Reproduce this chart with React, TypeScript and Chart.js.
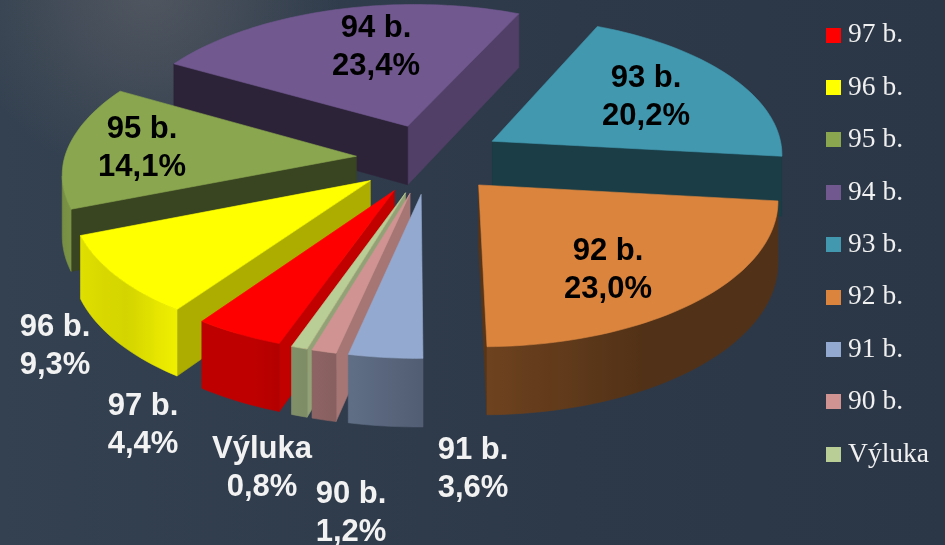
import React, { useEffect, useRef } from "react";
import { Chart, registerables } from "chart.js";

Chart.register(...registerables);

const categories = ["97 b.", "96 b.", "95 b.", "94 b.", "93 b.", "92 b.", "91 b.", "90 b.", "Výluka"];
const shares = [4.4, 9.3, 14.1, 23.4, 20.2, 23.0, 3.6, 1.2, 0.8];
const colors = ["#FF0000", "#FFFF00", "#8AA64E", "#71588F", "#4198AF", "#DB843D", "#93A9CF", "#D09392", "#B9CD96"];

// label anchor: centre x, first baseline y, text colour
const labelSpots: [number, number, string][] = [
  [143, 415, "#F2F2F2"],
  [55, 336, "#F2F2F2"],
  [142, 138, "#000000"],
  [376, 37, "#000000"],
  [646, 87, "#000000"],
  [608, 260, "#000000"],
  [473, 459, "#F2F2F2"],
  [351, 503, "#F2F2F2"],
  [262, 458, "#F2F2F2"],
];

// view of the tilted pie
const CX = 429, CY = 158.6, RX = 292, RY = 140, PERSP = 0.1, DEPTH = 60, EXPLODE = 0.25;
const SKEW_FRONT = -2.5, SKEW_BACK = -6;

type P = { x: number; y: number };
const project = (u: number, v: number, z: number): P => {
  const w = 1 - PERSP * v;
  const skew = v > 0 ? SKEW_FRONT : SKEW_BACK;
  return { x: CX + (RX * u + skew * v) / w, y: CY + (RY * v) / w + (z * DEPTH) / w };
};

const lerp = (a: number, b: number, t: number) => a + (b - a) * Math.min(1, Math.max(0, t));
const shadeHex = (hex: string, f: number) => {
  const n = parseInt(hex.slice(1), 16);
  return `rgb(${Math.round(((n >> 16) & 255) * f)},${Math.round(((n >> 8) & 255) * f)},${Math.round((n & 255) * f)})`;
};
const norm = (deg: number) => ((deg % 360) + 360) % 360;

// brightness of the outer wall, by compass direction (0 = back, 180 = front)
const rimLight = (deg: number) => {
  const d = norm(deg);
  if (d < 150) return 0.37;
  if (d < 179) return lerp(0.37, 0.5, (d - 150) / 29);
  if (d < 205) return lerp(0.55, 0.75, (d - 179) / 26);
  if (d < 215) return 0.75;
  if (d < 228) return lerp(0.94, 0.83, (d - 215) / 13);
  if (d < 250) return lerp(0.83, 0.88, (d - 228) / 22);
  return lerp(0.88, 0.8, (d - 250) / 30);
};
// brightness of a cut face, by the direction its normal looks at
const cutLight = (deg: number) => {
  const d = norm(deg);
  if (d < 105) return 0.8;
  if (d < 113) return lerp(0.8, 0.72, (d - 105) / 8);
  if (d < 125) return lerp(0.72, 0.68, (d - 113) / 12);
  if (d < 160) return lerp(0.68, 0.4, (d - 125) / 35);
  return 0.4;
};

const area = (pts: P[]) => {
  let s = 0;
  pts.forEach((p, i) => {
    const q = pts[(i + 1) % pts.length];
    s += p.x * q.y - q.x * p.y;
  });
  return s / 2;
};

const fillPoly = (ctx: CanvasRenderingContext2D, pts: P[], color: any) => {
  ctx.beginPath();
  pts.forEach((p, i) => (i ? ctx.lineTo(p.x, p.y) : ctx.moveTo(p.x, p.y)));
  ctx.closePath();
  ctx.fillStyle = color;
  ctx.strokeStyle = color;
  ctx.lineWidth = 0.6;
  ctx.fill();
  ctx.stroke();
};

const drawSlice = (ctx: CanvasRenderingContext2D, start: number, end: number, color: string) => {
  const mid = (start + end) / 2;
  const ou = EXPLODE * Math.cos(mid);
  const ov = EXPLODE * Math.sin(mid);
  const steps = Math.max(2, Math.ceil((end - start) / (Math.PI / 120)));
  const arc: [number, number, number][] = [];
  for (let i = 0; i <= steps; i++) {
    const a = start + ((end - start) * i) / steps;
    arc.push([ou + Math.cos(a), ov + Math.sin(a), a]);
  }
  const tip: [number, number] = [ou, ov];
  const first = arc[0];
  const last = arc[arc.length - 1];

  const wall = (p: number[], q: number[]) => [
    project(p[0], p[1], 0),
    project(q[0], q[1], 0),
    project(q[0], q[1], 1),
    project(p[0], p[1], 1),
  ];

  const faces: { pts: P[]; depth: number; color: any }[] = [];
  const startCut = wall(tip, first);
  if (area(startCut) < 0)
    faces.push({ pts: startCut, depth: tip[1] + first[1], color: shadeHex(color, cutLight((start * 180) / Math.PI)) });
  const endCut = wall(last, tip);
  if (area(endCut) < 0)
    faces.push({ pts: endCut, depth: tip[1] + last[1], color: shadeHex(color, cutLight((end * 180) / Math.PI + 180)) });

  // the outer wall is one shape with a horizontal gradient
  const top: P[] = [];
  const bottom: P[] = [];
  const stops: { x: number; f: number }[] = [];
  for (let i = 0; i < steps; i++) {
    const pts = wall(arc[i], arc[i + 1]);
    if (area(pts) >= 0) continue;
    if (!top.length) {
      top.push(pts[0]);
      bottom.push(pts[3]);
    }
    top.push(pts[1]);
    bottom.push(pts[2]);
    stops.push({ x: (pts[0].x + pts[1].x) / 2, f: rimLight((((arc[i][2] + arc[i + 1][2]) / 2) * 180) / Math.PI + 90) });
  }
  if (top.length > 1) {
    const xs = [...top, ...bottom].map((p) => p.x);
    const x0 = Math.min(...xs);
    const x1 = Math.max(...xs);
    const g = ctx.createLinearGradient(x0, 0, x1, 0);
    stops.forEach((s) => g.addColorStop(Math.min(1, Math.max(0, (s.x - x0) / (x1 - x0 || 1))), shadeHex(color, s.f)));
    faces.push({ pts: [...top, ...bottom.reverse()], depth: 2 * ov + 1, color: g });
  }

  faces.sort((a, b) => a.depth - b.depth).forEach((f) => fillPoly(ctx, f.pts, f.color));
  fillPoly(ctx, [project(tip[0], tip[1], 0), ...arc.map((p) => project(p[0], p[1], 0))], color);
};

const backdrop = {
  id: "backdrop",
  beforeDraw(chart: any) {
    const { ctx, width, height } = chart;
    const lin = ctx.createLinearGradient(0, 0, width, 0);
    lin.addColorStop(0, "#344150");
    lin.addColorStop(0.6, "#2D3949");
    lin.addColorStop(1, "#2B3747");
    ctx.fillStyle = lin;
    ctx.fillRect(0, 0, width, height);
    const glow = ctx.createRadialGradient(150, -10, 10, 150, -10, 190);
    glow.addColorStop(0, "rgba(130,125,125,0.36)");
    glow.addColorStop(1, "rgba(130,125,125,0)");
    ctx.fillStyle = glow;
    ctx.fillRect(0, 0, width, height);
  },
};

const pie3d = {
  id: "pie3d",
  beforeDatasetsDraw(chart: any) {
    const { ctx } = chart;
    const arcs = chart.getDatasetMeta(0).data as any[];
    ctx.save();
    arcs
      .map((arc, i) => ({ arc, i }))
      .sort((a, b) => Math.sin((a.arc.startAngle + a.arc.endAngle) / 2) - Math.sin((b.arc.startAngle + b.arc.endAngle) / 2))
      .forEach(({ arc, i }) => drawSlice(ctx, arc.startAngle, arc.endAngle, colors[i]));
    ctx.font = 'bold 31px "Liberation Sans", Arial, sans-serif';
    ctx.textAlign = "center";
    ctx.textBaseline = "alphabetic";
    categories.forEach((name, i) => {
      const [x, y, color] = labelSpots[i];
      ctx.fillStyle = color;
      ctx.fillText(name, x, y);
      ctx.fillText(`${shares[i].toFixed(1).replace(".", ",")}%`, x, y + 38);
    });
    ctx.restore();
    return false;
  },
};

const swatch = (color: string) => {
  const c = document.createElement("canvas");
  c.width = 15;
  c.height = 15;
  const g = c.getContext("2d")!;
  g.fillStyle = color;
  g.fillRect(0, 0, 15, 15);
  return c;
};

export default function App() {
  const ref = useRef<HTMLCanvasElement>(null);
  useEffect(() => {
    const chart = new Chart(ref.current!, {
      type: "pie",
      data: {
        labels: categories,
        datasets: [{ data: shares, backgroundColor: colors, borderWidth: 0 }],
      },
      plugins: [backdrop, pie3d],
      options: {
        responsive: false,
        animation: false,
        rotation: 199.2,
        layout: { padding: { top: -3.5, right: 6 } },
        plugins: {
          tooltip: { enabled: false },
          legend: {
            position: "right",
            align: "start",
            labels: {
              usePointStyle: true,
              boxWidth: 2,
              boxHeight: 15,
              padding: 24.9,
              color: "#F0F0F0",
              font: { family: '"Liberation Serif", serif', size: 27.5 },
              generateLabels: () =>
                categories.map((text, i) => ({
                  text,
                  pointStyle: swatch(colors[i]),
                  fontColor: "#F0F0F0",
                  hidden: false,
                  index: i,
                  lineWidth: 0,
                })),
            },
          },
        },
      } as any,
    });
    return () => chart.destroy();
  }, []);
  return (
    <div style={{ position: "absolute", left: 0, top: 0, width: 945, height: 545 }}>
      <canvas ref={ref} width={945} height={545} style={{ display: "block" }} />
    </div>
  );
}
